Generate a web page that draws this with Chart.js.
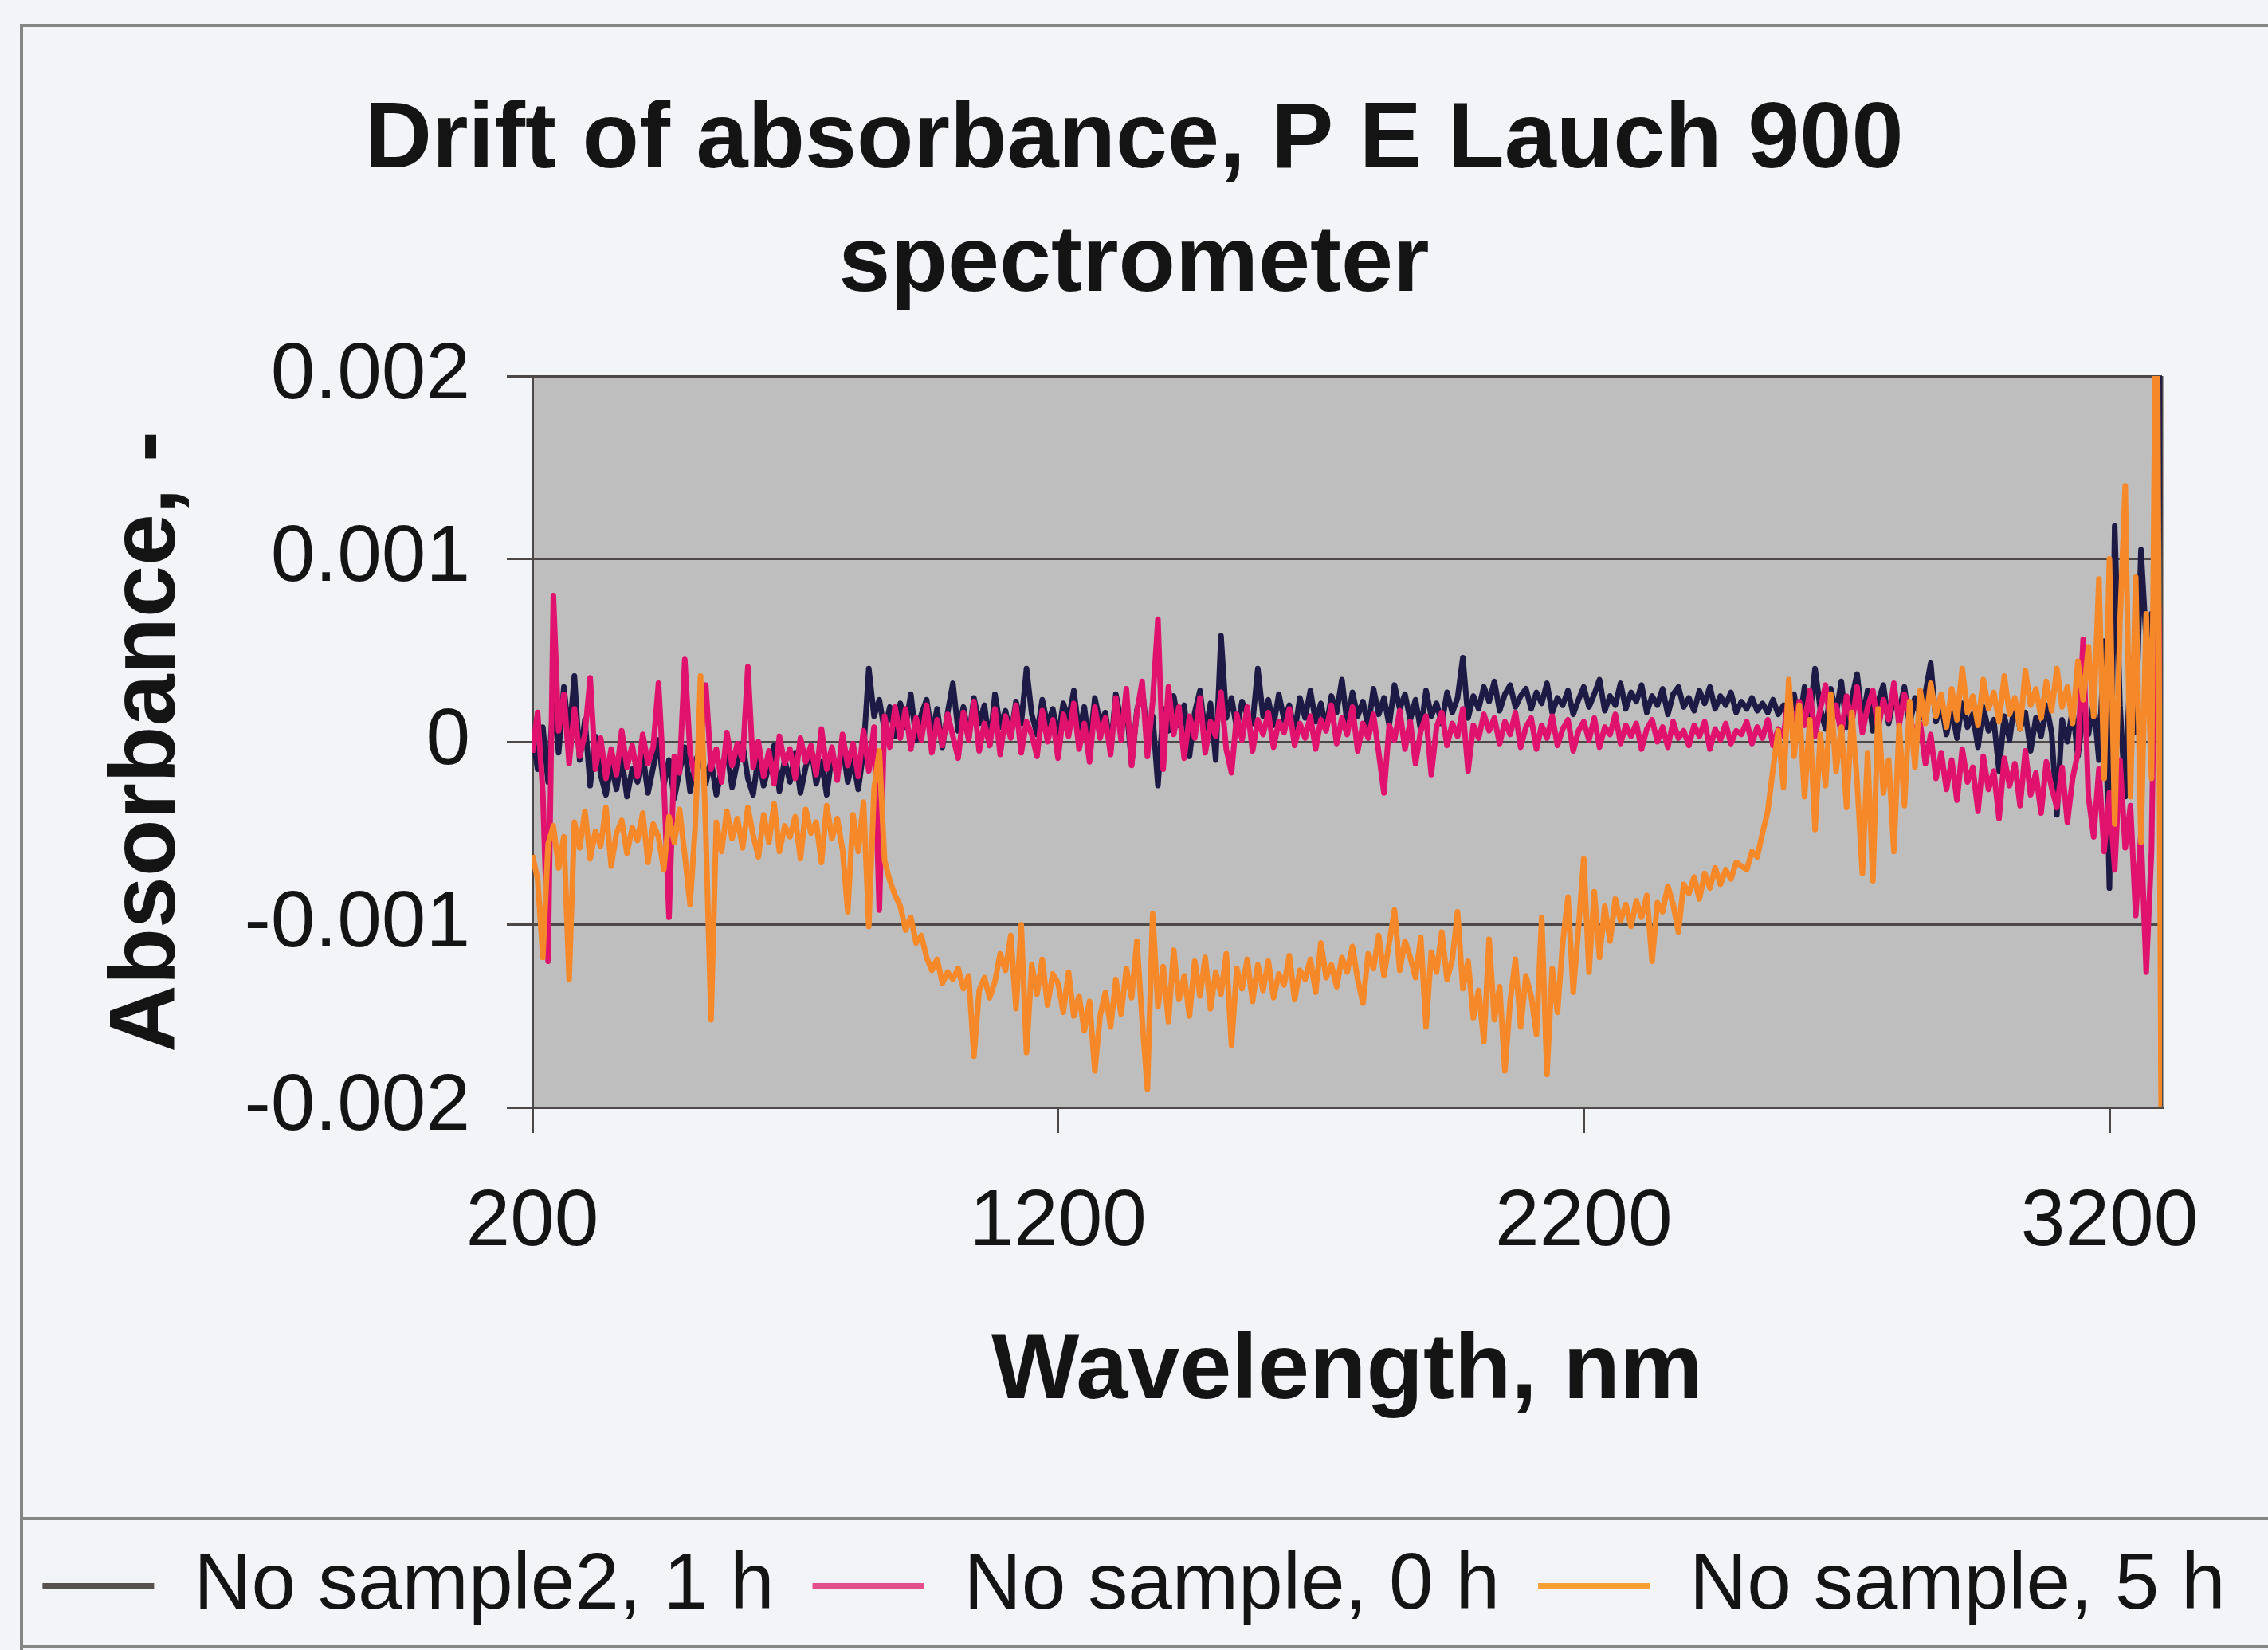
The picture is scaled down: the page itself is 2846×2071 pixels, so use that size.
<!DOCTYPE html>
<html><head><meta charset="utf-8">
<script src="https://cdn.jsdelivr.net/npm/chart.js@4.4.1/dist/chart.umd.min.js"></script>
<style>html,body{margin:0;padding:0;background:#f2f4f8;overflow:hidden}canvas{display:block}</style>
</head><body>
<canvas id="c" width="2846" height="2071"></canvas>
<script>
const wavelengths = [
200,210,220,230,240,250,260,270,280,290,
300,310,320,330,340,350,360,370,380,390,
400,410,420,430,440,450,460,470,480,490,
500,510,520,530,540,550,560,570,580,590,
600,610,620,630,640,650,660,670,680,690,
700,710,720,730,740,750,760,770,780,790,
800,810,820,830,840,850,860,870,880,890,
900,910,920,930,940,950,960,970,980,990,
1000,1010,1020,1030,1040,1050,1060,1070,1080,1090,
1100,1110,1120,1130,1140,1150,1160,1170,1180,1190,
1200,1210,1220,1230,1240,1250,1260,1270,1280,1290,
1300,1310,1320,1330,1340,1350,1360,1370,1380,1390,
1400,1410,1420,1430,1440,1450,1460,1470,1480,1490,
1500,1510,1520,1530,1540,1550,1560,1570,1580,1590,
1600,1610,1620,1630,1640,1650,1660,1670,1680,1690,
1700,1710,1720,1730,1740,1750,1760,1770,1780,1790,
1800,1810,1820,1830,1840,1850,1860,1870,1880,1890,
1900,1910,1920,1930,1940,1950,1960,1970,1980,1990,
2000,2010,2020,2030,2040,2050,2060,2070,2080,2090,
2100,2110,2120,2130,2140,2150,2160,2170,2180,2190,
2200,2210,2220,2230,2240,2250,2260,2270,2280,2290,
2300,2310,2320,2330,2340,2350,2360,2370,2380,2390,
2400,2410,2420,2430,2440,2450,2460,2470,2480,2490,
2500,2510,2520,2530,2540,2550,2560,2570,2580,2590,
2600,2610,2620,2630,2640,2650,2660,2670,2680,2690,
2700,2710,2720,2730,2740,2750,2760,2770,2780,2790,
2800,2810,2820,2830,2840,2850,2860,2870,2880,2890,
2900,2910,2920,2930,2940,2950,2960,2970,2980,2990,
3000,3010,3020,3030,3040,3050,3060,3070,3080,3090,
3100,3110,3120,3130,3140,3150,3160,3170,3180,3190,
3200,3210,3220,3230,3240,3250,3260,3270,3280,3290,
3300];

const noSample2_1h = [
0.00005,-0.00015,0.00008,-0.00022,0.00024,-0.00006,0.0003,0.00002,0.00036,-0.0001,
0.00012,-0.00024,0.00003,-0.00018,-0.00029,-0.00012,-0.00026,-0.00009,-0.0003,-0.00015,
-0.00022,-0.00007,-0.00028,-0.00014,0.00001,-0.00024,-0.0001,-0.00031,-0.00016,-0.00003,
-0.00027,-0.00012,-0.00002,-0.00023,-0.0001,-0.00029,-0.00015,-0.00004,-0.00025,-0.00011,
-0.00001,-0.0002,-0.00029,-0.00008,-0.00024,-0.00013,-0.00002,-0.00027,-0.0001,-0.00022,
-0.00006,-0.00028,-0.00014,-0.00003,-0.00023,-0.00011,-0.00029,-0.00007,-0.00018,-0.00002,
-0.00022,-0.0001,-0.00026,-0.00005,0.0004,0.00014,0.00023,0.00006,0.00019,0.00003,
0.00021,0.00008,0.00026,0.00001,0.00015,0.00023,0.00004,0.00018,-0.00003,0.00016,
0.00032,0.00006,0.00019,0.00002,0.00024,0.0001,0.0002,-0.00002,0.00026,0.00008,
0.00017,0.00003,0.00022,0.0001,0.0004,0.00015,0.00004,0.00023,0.00009,0.00018,
0.00002,0.00021,0.00012,0.00028,0.00005,0.00019,-0.00003,0.00024,0.0001,0.00016,
-0.00004,0.00026,0.00011,0.0002,-0.00012,0.00017,0.00029,0.00003,0.00014,-0.00024,
0.00018,0.00006,0.00025,0.00009,0.0002,-0.00008,0.00016,0.00028,0.00004,0.00021,
-0.0001,0.00058,0.00013,0.00024,0.00007,0.00022,0.00015,0.0001,0.0004,0.00014,
0.00023,0.00009,0.00026,0.00012,0.0002,0.00005,0.00024,0.00013,0.00028,0.00011,
0.00021,0.00007,0.00025,0.00016,0.00034,0.0001,0.00027,0.00014,0.00022,0.00008,
0.00029,0.00015,0.00024,0.00009,0.00031,0.00018,0.00026,0.00012,0.00023,0.00006,
0.00028,0.00014,0.00021,0.0001,0.00027,0.00016,0.00024,0.00046,0.00013,0.00025,
0.00018,0.0003,0.00022,0.00033,0.00017,0.00026,0.00031,0.00019,0.00025,0.00029,
0.00018,0.00027,0.00021,0.00032,0.00016,0.00024,0.0002,0.00028,0.00015,0.00023,
0.0003,0.00019,0.00026,0.00034,0.00017,0.00025,0.0002,0.00032,0.00018,0.00027,
0.00022,0.00031,0.00016,0.00025,0.0002,0.00029,0.00015,0.00026,0.0003,0.00019,
0.00024,0.00017,0.00028,0.00021,0.0003,0.00018,0.00025,0.0002,0.00027,0.00016,
0.00022,0.00018,0.00024,0.00017,0.00021,0.00016,0.00023,0.00015,0.0002,0.0001,
0.00026,0.00009,0.0003,0.00014,0.0004,0.00018,0.00007,0.00029,0.00015,0.00033,
0.00008,0.00024,0.00037,0.00012,0.00028,0.00006,0.00022,0.00031,0.0001,0.00025,
0.00016,0.0003,0.00009,0.00024,0.00013,0.00027,0.00043,0.00011,0.0002,0.00004,
0.00018,0.00002,0.00021,0.00008,0.00015,-0.00003,0.00019,0.00006,0.00012,-0.00016,
0.00014,0.00001,0.00022,0.00007,0.00016,-0.00005,0.00013,0.00003,0.0002,0.00005,
-0.0004,0.00012,0,0.00018,-0.00008,0.00015,0.00004,0.00022,-0.0001,0.00055,
-0.0008,0.00118,0.0002,-0.0003,0.00045,0.00005,0.00105,0.00055,0.0007,0.0003,
0.0025];

const noSample_0h = [
-0.00006,0.00016,-0.00028,-0.0012,0.0008,0.00006,0.00026,-0.00012,0.00018,-0.00008,
0.00004,0.00035,-0.00015,0.00002,-0.0002,-0.00004,-0.00018,0.00006,-0.00014,-0.00002,
-0.00019,0.00004,-0.00012,-0.00003,0.00032,-0.00021,-0.00096,-0.00008,-0.00017,0.00045,
-0.00006,-0.0002,-0.00002,0.00031,-0.00015,-0.00004,-0.00022,0.00005,-0.00013,-0.00001,
-0.0001,0.00041,-0.00014,0,-0.00019,-0.00005,-0.00023,0.00003,-0.00012,-0.00004,
-0.0002,0.00002,-0.00011,-0.00002,-0.00018,0.00007,-0.00015,-0.00003,-0.00021,0.00004,
-0.00013,-0.00001,-0.00019,0.00006,-0.00016,0.00008,-0.00092,0.00014,-0.00003,0.00019,
0.00002,0.00018,-0.00004,0.00013,0.00001,0.0002,-0.00006,0.00012,-0.00002,0.00015,
0.00003,-0.00009,0.00016,0.00001,0.00022,-0.00005,0.0001,-0.00002,0.00018,-0.00007,
0.00014,0.00002,0.0002,-0.00006,0.00011,0.00004,-0.00008,0.00017,0,0.00012,
-0.00009,0.00015,0.00003,0.00021,-0.00004,0.0001,-0.00011,0.00019,0.00002,0.00013,
-0.00007,0.00024,0.00001,0.00029,-0.00013,0.00016,0.00033,-0.00008,0.00022,0.00067,
-0.00015,0.0003,0.00004,0.00019,-0.00009,0.00014,0.00002,0.00024,-0.00006,0.00011,
0.00003,0.00027,-0.00004,-0.00017,0.00015,0.00001,0.00019,-0.00005,0.00012,0.00004,
0.00016,-0.00003,0.00011,0.00005,0.00018,-0.00002,0.0001,0.00002,0.00014,-0.00004,
0.00012,0.00006,0.0002,-0.00001,0.00013,0.00004,0.00019,-0.00005,0.0001,0.00002,
0.00015,-0.00006,-0.00028,0.00009,0.00001,0.00017,-0.00004,0.00011,-0.00012,0.00006,
0.00014,-0.00018,0.00008,0.00016,-0.00002,0.0001,0.00003,0.00018,-0.00016,0.00009,
0.00002,0.00015,0.00006,0.00013,-0.00001,0.00011,0.00004,0.00016,-0.00003,0.00008,
0.00013,-0.00004,0.00009,0.00002,0.00014,-0.00002,0.00007,0.00012,-0.00005,0.00006,
0.00011,0.00001,0.00013,-0.00003,0.00008,0.00004,0.00015,-0.00001,0.00009,0.00003,
0.0001,-0.00004,0.00007,0.00012,0,0.00008,-0.00003,0.00011,0.00002,0.00006,
-0.00002,0.00009,0.00003,0.00011,-0.00004,0.00007,0.00001,0.0001,-0.00001,0.00006,
0.00004,0.00011,-0.00001,0.00008,0.00002,0.00012,-0.00002,0.00007,0.00003,0.00026,
0.00006,0.00022,0.00009,0.00028,0.00003,0.00018,0.00031,0.00008,0.0002,0.00004,
0.00025,0.0001,0.0003,0.00005,0.00019,0.00028,0.00007,0.00023,0.00012,0.00032,
0.00009,0.00026,0.00014,0.00002,0.0001,-0.00012,0.00004,-0.0002,-0.00006,-0.00026,
-0.0001,-0.00032,-0.00004,-0.00022,-0.00014,-0.00038,-0.00008,-0.00026,-0.00016,-0.00042,
-0.00009,-0.00024,-0.00012,-0.00035,-0.00005,-0.00029,-0.00017,-0.00039,-0.00011,-0.00025,
-0.00036,-0.00014,-0.00044,-0.0002,-0.00006,0.00056,-0.0003,-0.00052,-0.00015,-0.0006,
-0.00028,-0.0007,-0.0001,-0.00058,-0.00035,-0.00095,-0.0005,-0.00126,-0.0006,0.00128,
-0.0003];

const noSample_5h = [
-0.00062,-0.00075,-0.00118,-0.00056,-0.00046,-0.00069,-0.00052,-0.0013,-0.00044,-0.00058,
-0.00038,-0.00064,-0.00049,-0.00057,-0.00036,-0.00068,-0.0005,-0.00043,-0.00061,-0.00047,
-0.00054,-0.00039,-0.00066,-0.00045,-0.00052,-0.0007,-0.00041,-0.00055,-0.00037,-0.00062,
-0.00089,-0.00046,0.00036,-0.0005,-0.00152,-0.00044,-0.0006,-0.00038,-0.00053,-0.00042,
-0.00058,-0.00036,-0.00051,-0.00063,-0.0004,-0.00055,-0.00034,-0.0006,-0.00046,-0.00052,
-0.00041,-0.00064,-0.00037,-0.0005,-0.00044,-0.00066,-0.00035,-0.00053,-0.00042,-0.00059,
-0.00093,-0.0004,-0.0006,-0.00033,-0.00101,-0.00026,-0.00005,-0.00065,-0.00076,-0.00084,
-0.0009,-0.00103,-0.00096,-0.0011,-0.00106,-0.00118,-0.00125,-0.00119,-0.00132,-0.00126,
-0.0013,-0.00124,-0.00135,-0.00128,-0.00172,-0.00136,-0.00129,-0.0014,-0.00131,-0.00116,
-0.00125,-0.00106,-0.00146,-0.001,-0.0017,-0.00122,-0.00138,-0.00119,-0.00144,-0.00127,
-0.00132,-0.00148,-0.00126,-0.0015,-0.00139,-0.00158,-0.00142,-0.0018,-0.0015,-0.00137,
-0.00156,-0.0013,-0.00149,-0.00124,-0.0014,-0.00109,-0.00152,-0.0019,-0.00094,-0.00145,
-0.00123,-0.00153,-0.00114,-0.00141,-0.00128,-0.0015,-0.0012,-0.00139,-0.00118,-0.00146,
-0.00126,-0.00138,-0.00116,-0.00166,-0.00124,-0.00135,-0.00119,-0.00142,-0.00122,-0.00136,
-0.0012,-0.0014,-0.00127,-0.00133,-0.00117,-0.00141,-0.00125,-0.0013,-0.00119,-0.00137,
-0.0011,-0.00129,-0.00122,-0.00134,-0.00118,-0.00126,-0.00112,-0.0013,-0.00143,-0.00116,
-0.00124,-0.00106,-0.00128,-0.0011,-0.00092,-0.00125,-0.00109,-0.00118,-0.00129,-0.00107,
-0.00156,-0.00115,-0.00126,-0.00104,-0.0013,-0.00119,-0.00093,-0.00135,-0.0012,-0.00151,
-0.00136,-0.00164,-0.00108,-0.00152,-0.00134,-0.0018,-0.00142,-0.00119,-0.00156,-0.00128,
-0.00139,-0.0016,-0.00096,-0.00182,-0.00124,-0.00148,-0.0011,-0.00085,-0.00137,-0.00102,
-0.00064,-0.00126,-0.00082,-0.00118,-0.0009,-0.00109,-0.00086,-0.00098,-0.00089,-0.00101,
-0.00087,-0.00096,-0.00084,-0.0012,-0.00088,-0.00093,-0.00079,-0.00089,-0.00104,-0.00078,
-0.00083,-0.00074,-0.00086,-0.00072,-0.0008,-0.00069,-0.00078,-0.0007,-0.00075,-0.00066,
-0.00068,-0.0007,-0.0006,-0.00063,-0.0005,-0.00038,-0.00015,0.00006,-0.00025,0.00034,
-0.00008,0.0002,-0.0003,0.00012,-0.00048,0.00004,-0.00024,0.00026,-0.00016,0.00008,
-0.00036,0.00016,-0.00022,-0.00072,-0.00006,-0.00076,0.00018,-0.00028,-0.0001,-0.0006,
0.00009,-0.00035,0.00022,-0.00014,0.00028,0.0001,0.00032,0.00014,0.00026,0.00008,
0.00029,0.00012,0.0004,0.00016,0.00025,0.00009,0.00034,0.00018,0.00027,0.00011,
0.00036,0.00015,0.00024,0.00007,0.00039,0.0002,0.00029,0.00013,0.00033,0.00017,
0.0004,0.00019,0.0003,0.0001,0.00044,0.00023,0.00052,0.00014,0.00089,-0.0002,
0.001,-0.00045,0.00065,0.0014,-0.0003,0.0009,-0.00055,0.0007,-0.0002,0.003,
-0.003];

const seriesNames = ['No sample2, 1 h', 'No sample, 0 h', 'No sample, 5 h'];
const seriesColors = ['#1d1a46', '#e0126e', '#f5892a'];
const legendColors = ['#57514d', '#e24f8a', '#f6a033'];
const xTickValues = [200, 1200, 2200, 3200];
const yTickValues = [-0.002, -0.001, 0, 0.001, 0.002];
const titleLines = ['Drift of absorbance, P E Lauch 900', 'spectrometer'];
const xTitle = 'Wavelength, nm';
const yTitle = 'Absorbance, -';

const FAMILY = "'Liberation Sans', Arial, Helvetica, sans-serif";
const seriesValues = [noSample2_1h, noSample_0h, noSample_5h];
const drawOrder = [3, 2, 1];

const datasets = seriesValues.map((vals, i) => ({
  label: seriesNames[i],
  data: wavelengths.map((w, k) => ({ x: w, y: vals[k] })),
  borderColor: seriesColors[i],
  backgroundColor: seriesColors[i],
  borderWidth: 7,
  borderJoinStyle: 'round',
  pointRadius: 0,
  tension: 0,
  order: drawOrder[i]
}));

const framePlugin = {
  id: 'frame',
  beforeDraw(chart) {
    const { ctx, width, height, chartArea: a } = chart;
    ctx.save();
    ctx.fillStyle = '#f2f4f8';
    ctx.fillRect(0, 0, width, height);
    ctx.strokeStyle = '#858585';
    ctx.lineWidth = 4;
    ctx.beginPath();
    ctx.moveTo(27, height); ctx.lineTo(27, 32); ctx.lineTo(width, 32);
    ctx.moveTo(27, 1906); ctx.lineTo(width, 1906);
    ctx.moveTo(27, 2067); ctx.lineTo(width, 2067);
    ctx.stroke();
    ctx.fillStyle = '#bfbebe';
    ctx.fillRect(a.left, a.top, a.right - a.left, a.bottom - a.top);
    ctx.restore();
  },
  beforeDatasetsDraw(chart) {
    const { ctx, chartArea: a } = chart;
    ctx.save();
    ctx.strokeStyle = '#4d4848';
    ctx.lineWidth = 3;
    ctx.beginPath();
    ctx.moveTo(a.right, a.top); ctx.lineTo(a.right, a.bottom);
    ctx.stroke();
    ctx.restore();
  }
};

new Chart(document.getElementById('c'), {
  type: 'line',
  data: { datasets },
  plugins: [framePlugin],
  options: {
    responsive: false,
    animation: false,
    devicePixelRatio: 1,
    layout: { padding: { left: 0, right: 0, top: 0, bottom: 20 } },
    plugins: {
      title: {
        display: true,
        text: titleLines,
        color: '#141414',
        font: { family: FAMILY, size: 117, weight: 'bold', lineHeight: 1.325 },
        padding: { top: 100, bottom: 62 }
      },
      legend: {
        position: 'bottom',
        labels: {
          color: '#141414',
          font: { family: FAMILY, size: 100 },
          boxWidth: 140,
          boxHeight: 8,
          padding: 48,
          sort: (a, b) => a.datasetIndex - b.datasetIndex,
          generateLabels(chart) {
            const items = Chart.defaults.plugins.legend.labels.generateLabels(chart);
            items.forEach(it => {
              it.lineWidth = 0;
              it.fillStyle = legendColors[it.datasetIndex];
            });
            return items;
          }
        }
      },
      tooltip: { enabled: false }
    },
    scales: {
      x: {
        type: 'linear',
        min: 200,
        max: 3300,
        afterBuildTicks: (s) => { s.ticks = xTickValues.map(v => ({ value: v })); },
        afterFit: (s) => { s.height = 503; s.paddingRight = 133; },
        ticks: {
          color: '#141414',
          font: { family: FAMILY, size: 100 },
          padding: 53,
          autoSkip: false,
          maxRotation: 0,
          callback: (v) => String(v)
        },
        grid: { drawOnChartArea: false, drawTicks: true, tickLength: 32, color: '#4d4848', lineWidth: 3 },
        border: { display: true, color: '#4d4848', width: 3 },
        title: {
          display: true,
          text: xTitle,
          color: '#141414',
          font: { family: FAMILY, size: 117, weight: 'bold', lineHeight: 1.2 },
          padding: { top: 0, bottom: 100 }
        }
      },
      y: {
        type: 'linear',
        min: -0.002,
        max: 0.002,
        afterBuildTicks: (s) => { s.ticks = yTickValues.map(v => ({ value: v })); },
        afterFit: (s) => { s.width = 668; },
        ticks: {
          color: '#141414',
          font: { family: FAMILY, size: 100 },
          padding: 46,
          callback: (v) => String(v)
        },
        grid: { color: '#4d4848', lineWidth: 3, tickLength: 32 },
        border: { display: true, color: '#4d4848', width: 3 },
        title: {
          display: true,
          text: yTitle,
          color: '#141414',
          font: { family: FAMILY, size: 117, weight: 'bold', lineHeight: 1.2 },
          padding: { top: 117, bottom: 0 }
        }
      }
    }
  }
});
</script>
</body></html>
